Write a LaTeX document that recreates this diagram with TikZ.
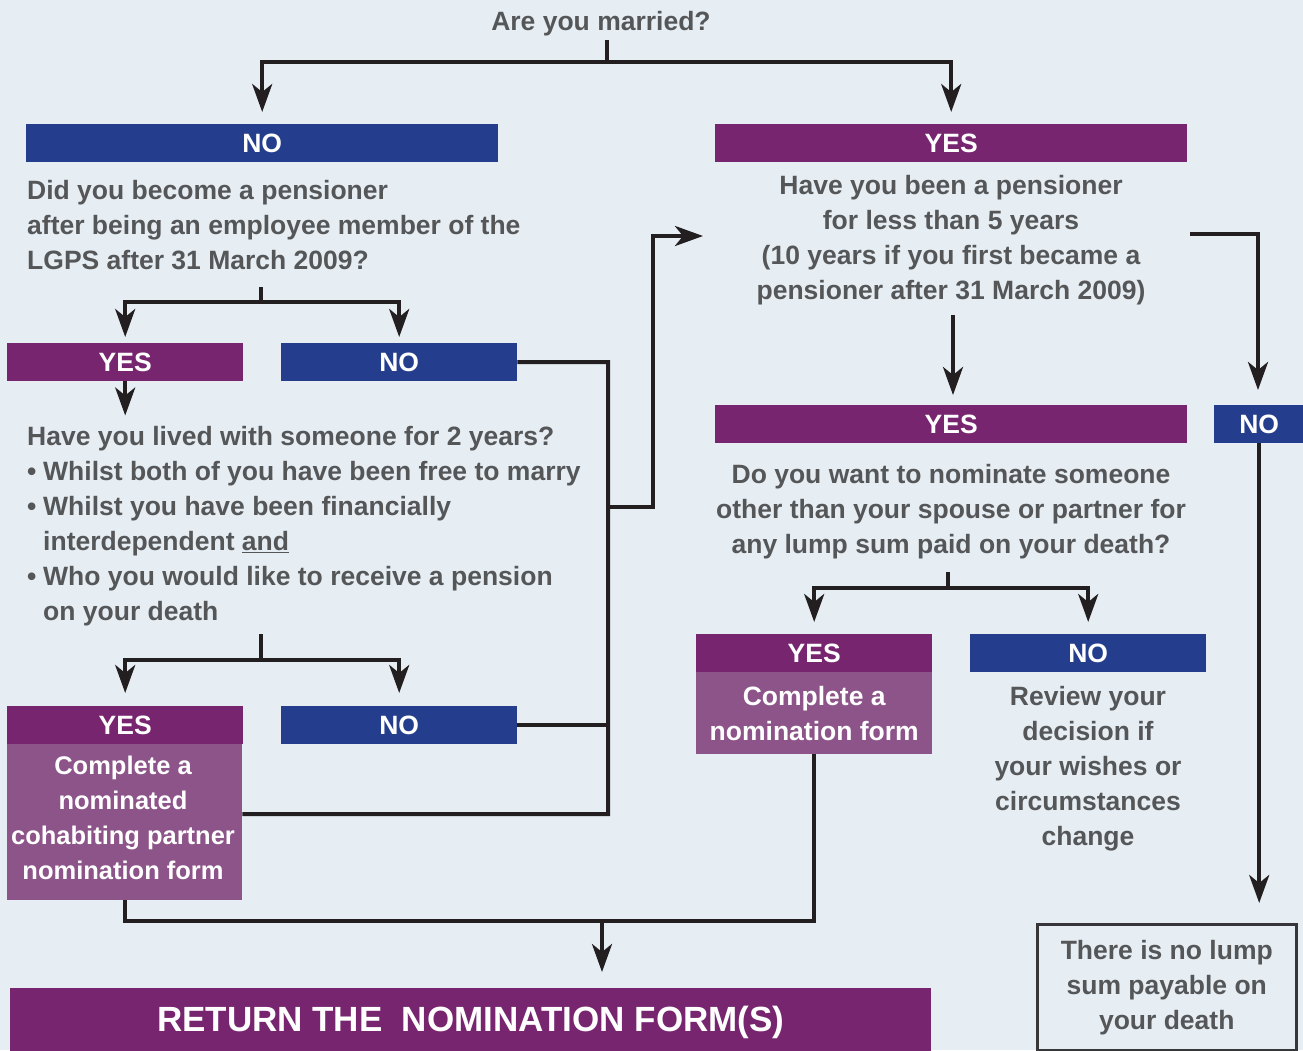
\documentclass[tikz,border=0pt]{standalone}
\usepackage{fontspec}
\setmainfont{Liberation Sans}
\usetikzlibrary{arrows.meta}
\definecolor{bgc}{RGB}{230,238,244}
\definecolor{pur}{RGB}{120,37,112}
\definecolor{blu}{RGB}{36,62,141}
\definecolor{lpur}{RGB}{141,84,138}
\definecolor{txt}{RGB}{85,86,88}
\definecolor{lnc}{RGB}{35,31,32}
\definecolor{boxc}{RGB}{55,55,57}
\newcommand{\qf}{\fontsize{26.5}{35}\selectfont\bfseries}
\newcommand{\mybul}{\makebox[16pt][l]{\textbullet}}
\begin{document}
\begin{tikzpicture}[x=1pt,y=-1pt,
  ln/.style={draw=lnc, line width=4pt},
  arr/.style={ln, -{Stealth[length=28pt,width=20pt,inset=8pt]}},
  bar/.style={anchor=north west, inner sep=0pt, minimum height=38pt, text=white, font=\qf},
  qt/.style={inner sep=0pt, text=txt, font=\qf},
  panel/.style={anchor=north west, fill=lpur, inner sep=0pt}]
\useasboundingbox (0,0) rectangle (1303,1050);
\fill[bgc] (0,0) rectangle (1303,1050);
\clip (0,0) rectangle (1303,1050);

% question at top
\node[qt] (married) at (601,23.5) {Are you married?};

% left branch
\node[bar, fill=blu, minimum width=472pt] (noA) at (26,124) {NO};
\node[qt, anchor=north west, align=left] (qA) at (27,180.5) {Did you become a pensioner\\after being an employee member of the\\LGPS after 31 March 2009?};
\node[bar, fill=pur, minimum width=236pt] (yesB) at (7,343) {YES};
\node[bar, fill=blu, minimum width=236pt] (noB) at (281,343) {NO};
\node[qt, anchor=north west, align=left] (qC) at (27,426.5) {Have you lived with someone for 2 years?\\\mybul Whilst both of you have been free to marry\\\mybul Whilst you have been financially\\\hspace*{16pt}interdependent \underline{and}\\\mybul Who you would like to receive a pension\\\hspace*{16pt}on your death};
\node[bar, fill=pur, minimum width=236pt] (yesC) at (7,706) {YES};
\node[bar, fill=blu, minimum width=236pt] (noC) at (281,706) {NO};
\node[panel, minimum width=235pt, minimum height=156pt] (cohab) at (7,744) {};
\node[qt, text=white, align=center, anchor=north, font=\fontsize{25.5}{35}\selectfont\bfseries] (cohabt) at (123,755.5) {Complete a\\nominated\\cohabiting partner\\nomination form};

% right branch
\node[bar, fill=pur, minimum width=472pt] (yesA) at (715,124) {YES};
\node[qt, anchor=north, align=center] (qB) at (951,175.5) {Have you been a pensioner\\for less than 5 years\\(10 years if you first became a\\pensioner after 31 March 2009)};
\node[bar, fill=pur, minimum width=472pt] (yesD) at (715,405) {YES};
\node[bar, fill=blu, minimum width=90pt] (noD) at (1214,405) {NO};
\node[qt, anchor=north, align=center] (qD) at (951,464.5) {Do you want to nominate someone\\other than your spouse or partner for\\any lump sum paid on your death?};
\node[bar, fill=pur, minimum width=236pt] (yesE) at (696,634) {YES};
\node[panel, minimum width=236pt, minimum height=82pt, text=white, font=\qf, align=center] (nomf) at (696,672) {Complete a\\nomination form};
\node[bar, fill=blu, minimum width=236pt] (noE) at (970,634) {NO};
\node[qt, anchor=north, align=center] (review) at (1088,686.5) {Review your\\decision if\\your wishes or\\circumstances\\change};
\node[draw=boxc, line width=2.5pt, anchor=north west, minimum width=259pt, minimum height=126pt, inner sep=0pt, text=txt, font=\qf, align=center] (nolump) at (1036,923) {There is no lump\\sum payable on\\your death};

% bottom bar
\node[anchor=north west, fill=pur, minimum width=921pt, minimum height=68pt, inner sep=0pt, text=white, font=\fontsize{35}{40}\selectfont\bfseries] (ret) at (10,988) {RETURN THE\ \ NOMINATION FORM(S)};

% junction coordinates
\coordinate (m0) at (607,40);
\coordinate (m1) at (607,62);
\coordinate (a0) at (261,287);
\coordinate (a1) at (261,302);
\coordinate (c0) at (261,634);
\coordinate (c1) at (261,660);
\coordinate (v1) at (608,362);
\coordinate (v2) at (608,814);
\coordinate (vj) at (608,507);
\coordinate (vk) at (653,507);
\coordinate (vl) at (653,236);
\coordinate (vt) at (703,236);
\coordinate (b0) at (953,315);
\coordinate (b1) at (1190,234);
\coordinate (b2) at (1258,234);
\coordinate (d0) at (948,572);
\coordinate (d1) at (948,588);
\coordinate (jr) at (602,921);

% connectors
\draw[ln] (m0) -- (m1);
\draw[arr, shorten >=12pt] (m1) -| (noA.north);
\draw[arr, shorten >=12pt] (m1) -| (yesA.north);

\draw[ln] (a0) -- (a1);
\draw[arr, shorten >=6pt] (a1) -| (yesB.north);
\draw[arr, shorten >=6pt] (a1) -| (noB.north);
\draw[arr, shorten >=11pt] (yesB.south) -- (yesB.south |- qC.north);

\draw[ln] (c0) -- (c1);
\draw[arr, shorten >=13pt] (c1) -| (yesC.north);
\draw[arr, shorten >=13pt] (c1) -| (noC.north);

\draw[ln] (noB.east) -- (v1) -- (v2) -- (v2 -| cohab.east);
\draw[ln] (noC.east) -- (noC.east -| v1);
\draw[arr] (vj) -- (vk) -- (vl) -- (vt);

\draw[arr, shorten >=10pt] (b0) -- (b0 |- yesD.north);
\draw[arr, shorten >=15pt] (b1) -- (b2) -- (b2 |- noD.north);

\draw[ln] (d0) -- (d1);
\draw[arr, shorten >=12pt] (d1) -| (yesE.north);
\draw[arr, shorten >=12pt] (d1) -| (noE.north);

\draw[arr, shorten >=20pt] (noD.south) -- (noD.south |- nolump.north);

\draw[ln] (nomf.south) |- (jr) -| (cohab.south);
\draw[arr, shorten >=16pt] (jr) -- (jr |- ret.north);
\end{tikzpicture}
\end{document}
